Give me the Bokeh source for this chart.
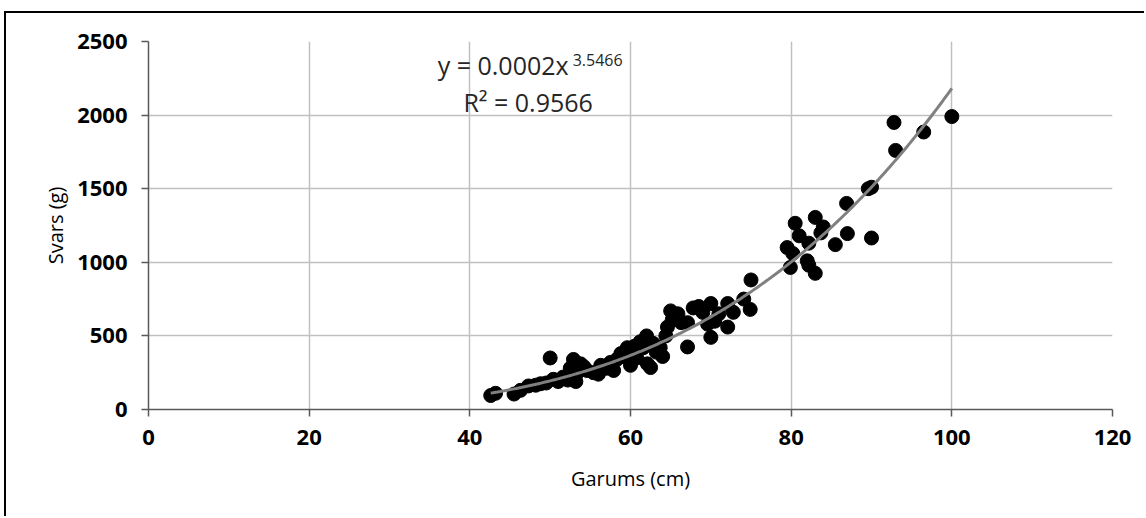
import numpy as np
from bokeh.plotting import figure
from bokeh.models import Range1d, FixedTicker, Label
from bokeh.embed import file_html
from bokeh.resources import INLINE

# data
garums = [42.6, 43.2, 45.5, 46.3, 47.3, 48.2, 48.8, 49.5, 50.0, 50.4, 51.0, 51.6, 52.2, 52.5,
          52.9, 53.2, 53.4, 53.8, 54.2, 54.6, 55.4, 56.0, 56.3, 57.0, 57.5, 57.9, 58.3, 58.8,
          59.2, 59.6, 60.0, 60.0, 60.5, 60.8, 61.2, 61.6, 62.0, 62.1, 62.5, 62.8, 63.2, 63.7,
          64.0, 64.4, 64.6, 65.0, 65.2, 65.9, 66.3, 67.1, 67.1, 67.8, 68.5, 69.0, 69.6, 70.0,
          70.0, 70.5, 71.0, 72.1, 72.1, 72.8, 74.1, 74.9, 75.0, 79.5, 79.9, 80.2, 80.5, 81.0,
          82.0, 82.2, 82.2, 83.0, 83.0, 83.7, 84.0, 85.5, 86.9, 87.0, 89.6, 90.0, 90.0, 92.8,
          93.0, 96.5, 100.0]
svars = [95, 110, 105, 130, 160, 165, 175, 180, 350, 205, 190, 220, 200, 280,
         340, 190, 250, 310, 290, 265, 250, 240, 300, 280, 320, 265, 340, 380,
         360, 420, 300, 400, 430, 350, 460, 420, 500, 310, 285, 450, 390, 420,
         360, 500, 560, 670, 610, 650, 590, 425, 590, 690, 700, 660, 580, 490,
         720, 600, 650, 560, 720, 660, 750, 680, 880, 1100, 965, 1060, 1265, 1180,
         1010, 1130, 980, 1305, 925, 1200, 1240, 1120, 1400, 1195, 1500, 1510, 1165, 1950,
         1760, 1885, 1990]
x_ticks = [0, 20, 40, 60, 80, 100, 120]
y_ticks = [0, 500, 1000, 1500, 2000, 2500]
eq_main = "y = 0.0002x"
eq_exp = "3.5466"
eq_r2 = "R\u00b2 = 0.9566"

FONT = "Open Sans"

p = figure(width=1140, height=505, x_range=Range1d(0, 120), y_range=Range1d(0, 2500),
           output_backend="svg", toolbar_location=None,
           min_border_left=142, min_border_right=34, min_border_top=28, min_border_bottom=109)
p.styles = {"margin-left": "4px", "margin-top": "11px",
            "border-left": "2px solid black", "border-top": "2px solid black"}
p.background_fill_color = "white"
p.border_fill_color = "white"
p.outline_line_color = None

p.xaxis.ticker = FixedTicker(ticks=x_ticks)
p.yaxis.ticker = FixedTicker(ticks=y_ticks)
for ax in (p.xaxis, p.yaxis):
    ax.axis_line_color = "#595959"
    ax.axis_line_width = 1.5
    ax.major_tick_line_color = "#595959"
    ax.major_tick_line_width = 1.5
    ax.major_tick_in = 0
    ax.major_tick_out = 7
    ax.minor_tick_line_color = None
    ax.major_label_text_font = FONT
    ax.major_label_text_font_style = "bold"
    ax.major_label_text_font_size = "22px"
    ax.major_label_text_color = "black"
    ax.axis_label_text_font = FONT
    ax.axis_label_text_font_style = "normal"
    ax.axis_label_text_font_size = "20px"
    ax.axis_label_text_color = "black"
p.xaxis.axis_label = "Garums (cm)"
p.yaxis.axis_label = "Svars (g)"
p.xaxis.major_label_standoff = 13
p.yaxis.major_label_standoff = 14
p.xaxis.axis_label_standoff = 17
p.yaxis.axis_label_standoff = 5

for g in (p.xgrid, p.ygrid):
    g.grid_line_color = "#c0c0c0"
    g.grid_line_width = 1.5

p.scatter(garums, svars, size=14, color="black", line_color="black")

# power-law trendline fitted from the data
lx = np.log(np.array(garums))
ly = np.log(np.array(svars, dtype=float))
b, lna = np.polyfit(lx, ly, 1)
xs = np.linspace(min(garums), max(garums), 200)
p.line(xs, np.exp(lna) * xs ** b, line_color="#808080", line_width=3)

p.add_layout(Label(x=36.0, y=2342, text=eq_main, text_font=FONT, text_font_size="25px",
                   text_color="#262626", text_baseline="alphabetic"))
p.add_layout(Label(x=52.8, y=2377, text=eq_exp, text_font=FONT, text_font_size="16px",
                   text_color="#262626", text_baseline="alphabetic"))
p.add_layout(Label(x=39.2, y=2088, text=eq_r2, text_font=FONT, text_font_size="25px",
                   text_color="#262626", text_baseline="alphabetic"))

open("out.html", "w").write(file_html(p, INLINE))
